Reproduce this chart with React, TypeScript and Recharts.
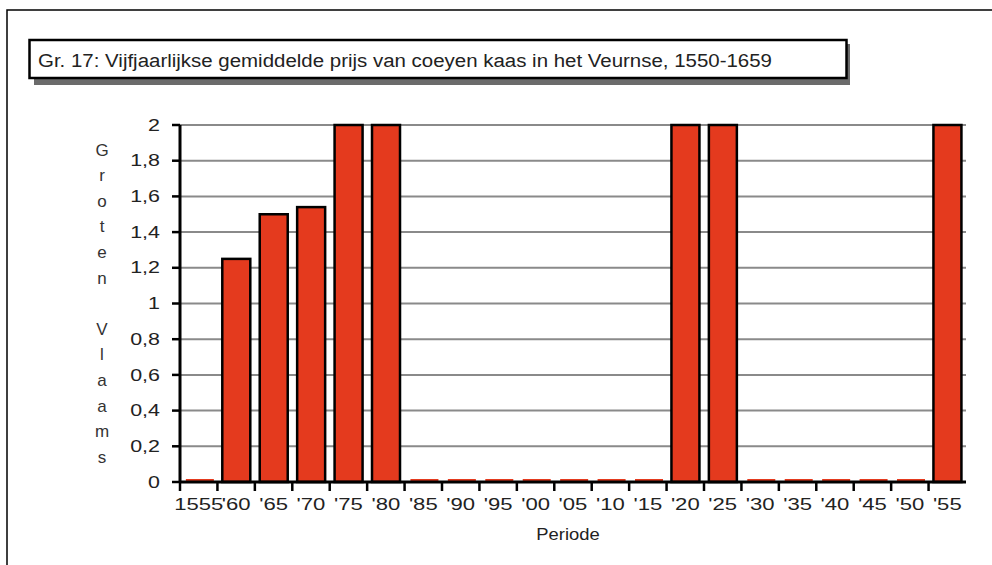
import { BarChart, Bar, XAxis, YAxis, CartesianGrid } from 'recharts'

const periods = ['1555', "'60", "'65", "'70", "'75", "'80", "'85", "'90", "'95", "'00", "'05", "'10", "'15", "'20", "'25", "'30", "'35", "'40", "'45", "'50", "'55"]
const prices = [0, 1.25, 1.5, 1.54, 2, 2, 0, 0, 0, 0, 0, 0, 0, 2, 2, 0, 0, 0, 0, 0, 2]
const yTicks = [0, 0.2, 0.4, 0.6, 0.8, 1, 1.2, 1.4, 1.6, 1.8, 2]
const title = 'Gr. 17: Vijfjaarlijkse gemiddelde prijs van coeyen kaas in het Veurnse, 1550-1659'
const yLabel = 'Groten Vlaams'
const xLabel = 'Periode'

const data = periods.map((p, i) => ({ period: p, price: prices[i] }))

const FONT = '"Liberation Sans", Arial, sans-serif'
const RED = '#e43a1e'
const PLOT_LEFT = 180
const PLOT_RIGHT = 966
const BAND = (PLOT_RIGHT - PLOT_LEFT) / periods.length

const fmt = (v: number) => String(v).replace('.', ',')

function YTick(props: any) {
  const { x, y, payload } = props
  return (
    <text
      transform={`translate(${x},${y}) scale(1.3,1)`}
      textAnchor="end"
      dominantBaseline="central"
      fontSize={16.5}
      fontFamily={FONT}
      fill="#222"
    >
      {fmt(payload.value)}
    </text>
  )
}

function XTick(props: any) {
  const { x, y, payload } = props
  const left = x - BAND / 2
  return (
    <g>
      <line x1={left} x2={left} y1={y} y2={y + 9} stroke="#000" strokeWidth={2.5} />
      <text
        transform={`translate(${x},${y + 28}) scale(1.3,1)`}
        textAnchor="middle"
        fontSize={17}
        fontFamily={FONT}
        fill="#222"
      >
        {payload.value}
      </text>
    </g>
  )
}

// zero values show as a thin red line on the axis, like the original
function PriceBar(props: any) {
  const { x, y, width, height } = props
  if (!height || height < 0.5) {
    return <rect x={x + 1} y={y - 3} width={width} height={2} fill={RED} />
  }
  return <rect x={x} y={y} width={width} height={height} fill={RED} stroke="#000" strokeWidth={2.5} />
}

export default function App() {
  const letters = yLabel.split('')
  return (
    <div style={{ position: 'absolute', left: 0, top: 0, width: 992, height: 565, background: '#fff' }}>
      <svg width={992} height={565} style={{ position: 'absolute', left: 0, top: 0 }}>
        <path d="M7,565 V10 H992" fill="none" stroke="#000" strokeWidth={1.5} />
        <rect x={34} y={44} width={816} height={41} fill="#6b6b6b" />
        <rect x={29.5} y={40} width={817} height={38} fill="#fff" stroke="#000" strokeWidth={2.5} />
        <text x={38} y={67} fontSize={18} fontFamily={FONT} fill="#222" textLength={734} lengthAdjust="spacingAndGlyphs">
          {title}
        </text>
        {letters.map((ch, i) => (
          <text
            key={i}
            x={102}
            y={150 + i * 25.6}
            textAnchor="middle"
            dominantBaseline="central"
            fontSize={17}
            fontFamily={FONT}
            fill="#333"
          >
            {ch}
          </text>
        ))}
        <text
          transform="translate(568,540) scale(1.15,1)"
          textAnchor="middle"
          fontSize={16}
          fontFamily={FONT}
          fill="#222"
        >
          {xLabel}
        </text>
      </svg>
      <div style={{ position: 'absolute', left: 0, top: 0 }}>
        <BarChart
          width={992}
          height={565}
          data={data}
          margin={{ top: 125, right: 992 - PLOT_RIGHT, bottom: 43, left: 0 }}
          barCategoryGap="13%"
        >
          <CartesianGrid vertical={false} stroke="#8a8a8a" strokeWidth={2} />
          <XAxis
            dataKey="period"
            height={40}
            interval={0}
            tickSize={0}
            tickMargin={0}
            tickLine={false}
            axisLine={{ stroke: '#000', strokeWidth: 3 }}
            tick={<XTick />}
          />
          <YAxis
            width={PLOT_LEFT}
            domain={[0, 2]}
            ticks={yTicks}
            interval={0}
            tickSize={8}
            tickMargin={12}
            tickLine={{ stroke: '#000', strokeWidth: 2.5 }}
            axisLine={{ stroke: '#000', strokeWidth: 3 }}
            tick={<YTick />}
          />
          <Bar dataKey="price" fill={RED} shape={<PriceBar />} isAnimationActive={false} />
        </BarChart>
      </div>
    </div>
  )
}
